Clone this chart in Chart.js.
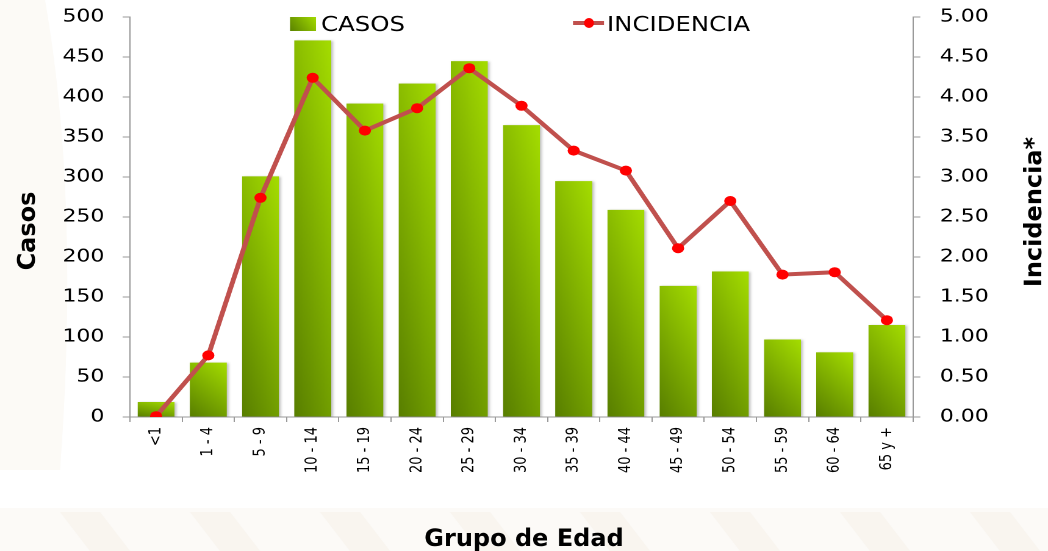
<!DOCTYPE html>
<html><head><meta charset="utf-8">
<script src="https://cdn.jsdelivr.net/npm/chart.js@4.4.1/dist/chart.umd.min.js"></script>
<style>
html,body{margin:0;padding:0;background:#fff;overflow:hidden;width:1048px;height:551px}
#wrap{position:absolute;left:0;top:0;width:859px;height:551px;transform:scaleX(1.22);transform-origin:0 0}
canvas{display:block}
</style></head><body>
<div id="wrap"><canvas id="c" width="859" height="551" style="width:859px;height:551px"></canvas></div>
<script>
// ---- data ----
const categories = ['<1','1 - 4','5 - 9','10 - 14','15 - 19','20 - 24','25 - 29','30 - 34','35 - 39','40 - 44','45 - 49','50 - 54','55 - 59','60 - 64','65 y +'];
const casos = [19, 68, 301, 471, 392, 417, 445, 365, 295, 259, 164, 182, 97, 81, 115];
const incidencia = [0.01, 0.77, 2.74, 4.24, 3.58, 3.86, 4.36, 3.89, 3.33, 3.08, 2.11, 2.70, 1.78, 1.81, 1.21];
const casosTicks = [0, 50, 100, 150, 200, 250, 300, 350, 400, 450, 500];
const incidenciaTicks = [0, 0.5, 1, 1.5, 2, 2.5, 3, 3.5, 4, 4.5, 5];
const seriesNames = ['CASOS', 'INCIDENCIA'];
const axisTitles = {x: 'Grupo de Edad', y: 'Casos', y1: 'Incidencia*'};

// ---- rendering ----
const S = 1048 / 859;          // horizontal stretch of the picture
const BAR_FRAC = 0.71;

// bilinear green gradient tile (dark bottom-left -> light top-right)
const tile = document.createElement('canvas');
tile.width = 64; tile.height = 256;
(function () {
  const tc = tile.getContext('2d');
  const img = tc.createImageData(64, 256);
  const dark = [88, 126, 0], light = [162, 218, 0];
  for (let y = 0; y < 256; y++) {
    const v = 1 - y / 255;
    for (let x = 0; x < 64; x++) {
      const u = x / 63;
      const t = Math.min(1, 0.35 * u + 0.68 * v);
      const i = (y * 64 + x) * 4;
      for (let k = 0; k < 3; k++) img.data[i + k] = Math.round(dark[k] + (light[k] - dark[k]) * t);
      img.data[i + 3] = 255;
    }
  }
  tc.putImageData(img, 0, 0);
})();

function barFill(ctx) {
  const chart = ctx.chart;
  if (!chart.chartArea || ctx.type !== 'data') return '#84b800';
  const xs = chart.scales.x, ys = chart.scales.y;
  const xc = xs.getPixelForValue(ctx.dataIndex);
  const w = xs.width / categories.length * BAR_FRAC;
  const top = ys.getPixelForValue(ctx.raw), bottom = ys.getPixelForValue(0);
  const p = chart.ctx.createPattern(tile, 'no-repeat');
  p.setTransform(new DOMMatrix([w / 64, 0, 0, Math.max(1, bottom - top) / 256, xc - w / 2, top]));
  return p;
}

const decoPlugin = {
  id: 'deco',
  beforeDraw(chart) {
    const c = chart.ctx;
    c.save();
    c.scale(1 / S, 1);
    c.fillStyle = '#ffffff';
    c.fillRect(0, 0, 1048, 551);
    c.fillStyle = '#fcfaf6';
    c.beginPath();
    c.moveTo(0, 0); c.lineTo(45, 0);
    c.quadraticCurveTo(80, 200, 60, 470);
    c.lineTo(0, 470); c.closePath(); c.fill();
    c.fillStyle = '#fcfaf7';
    c.fillRect(0, 508, 1048, 43);
    c.fillStyle = '#f9f5ef';
    for (let i = 0; i < 8; i++) {
      const x0 = 60 + i * 130;
      c.beginPath();
      c.moveTo(x0, 512); c.lineTo(x0 + 40, 512); c.lineTo(x0 + 70, 551); c.lineTo(x0 + 30, 551); c.closePath(); c.fill();
    }
    c.restore();
  }
};

const shadowPlugin = {
  id: 'barShadow',
  beforeDatasetDraw(chart, args) {
    if (args.index !== 1) return;
    const c = chart.ctx;
    c.save();
    c.shadowColor = 'rgba(0,0,0,0.25)';
    c.shadowBlur = 4;
    c.shadowOffsetX = 3;
    c.shadowOffsetY = 1;
  },
  afterDatasetDraw(chart, args) {
    if (args.index !== 1) return;
    chart.ctx.restore();
  }
};

const labelPlugin = {
  id: 'labels',
  afterDraw(chart) {
    const c = chart.ctx;
    c.save();
    const sqX = 290 / S, sqW = 26 / S;
    const lg = c.createLinearGradient(sqX, 31, sqX + sqW, 17);
    lg.addColorStop(0, '#5a8200'); lg.addColorStop(1, '#a2da00');
    c.fillStyle = lg;
    c.fillRect(sqX, 17, sqW, 14);
    c.fillStyle = '#000';
    c.font = '20px "DejaVu Sans"';
    c.textAlign = 'left';
    c.textBaseline = 'alphabetic';
    c.fillText(seriesNames[0], 321 / S, 31);
    c.strokeStyle = '#c0504d';
    c.lineWidth = 4;
    c.beginPath(); c.moveTo(573 / S, 23); c.lineTo(604 / S, 23); c.stroke();
    c.fillStyle = '#ff0000';
    c.beginPath(); c.ellipse(589 / S, 23, 5 / S, 5, 0, 0, Math.PI * 2); c.fill();
    c.fillStyle = '#000';
    c.fillText(seriesNames[1], 607 / S, 31);
    c.restore();

    c.save();
    c.scale(1 / S, 1);
    c.fillStyle = '#000';
    c.font = 'bold 24px "DejaVu Sans"';
    c.textAlign = 'center';
    c.textBaseline = 'alphabetic';
    c.fillText(axisTitles.x, 524, 546);
    c.save(); c.translate(35, 231); c.rotate(-Math.PI / 2); c.fillText(axisTitles.y, 0, 0); c.restore();
    c.save(); c.translate(1041, 212); c.rotate(-Math.PI / 2); c.fillText(axisTitles.y1, 0, 0); c.restore();
    c.restore();
  }
};

new Chart(document.getElementById('c'), {
  data: {
    labels: categories,
    datasets: [
      {
        type: 'line', label: seriesNames[1], data: incidencia, yAxisID: 'y1', order: 1,
        borderColor: '#c0504d', borderWidth: 4, tension: 0,
        pointBackgroundColor: '#ff0000', pointBorderColor: '#ff0000',
        pointRadius: 5, pointBorderWidth: 0, pointHoverRadius: 5
      },
      {
        type: 'bar', label: seriesNames[0], data: casos, yAxisID: 'y', order: 2,
        backgroundColor: barFill, borderWidth: 0,
        categoryPercentage: BAR_FRAC, barPercentage: 1
      }
    ]
  },
  options: {
    responsive: false,
    animation: false,
    devicePixelRatio: 2,
    layout: {padding: {top: 17, bottom: 0, left: 0, right: 0}},
    plugins: {legend: {display: false}, tooltip: {enabled: false}},
    scales: {
      x: {
        offset: true,
        grid: {display: true, drawOnChartArea: false, offset: true, tickLength: 5, color: '#9a9a9a', lineWidth: 1},
        border: {display: true, color: '#9a9a9a', width: 1},
        ticks: {minRotation: 90, maxRotation: 90, autoSkip: false, padding: 5, color: '#000',
                font: {family: '"DejaVu Sans"', size: 13}},
        afterFit(s) { s.height = 134; s.paddingLeft = 0; s.paddingRight = 0; }
      },
      y: {
        position: 'left', min: 0, max: 500,
        afterBuildTicks(s) { s.ticks = casosTicks.map(v => ({value: v})); },
        grid: {display: true, drawOnChartArea: false, tickLength: 6, color: '#9a9a9a'},
        border: {display: true, color: '#9a9a9a', width: 1},
        ticks: {padding: 15, color: '#000', font: {family: '"DejaVu Sans"', size: 18}},
        afterFit(s) { s.width = 130 / S; s.paddingTop = 0; s.paddingBottom = 0; }
      },
      y1: {
        position: 'right', min: 0, max: 5,
        afterBuildTicks(s) { s.ticks = incidenciaTicks.map(v => ({value: v})); },
        grid: {display: true, drawOnChartArea: false, tickLength: 6, color: '#9a9a9a'},
        border: {display: true, color: '#9a9a9a', width: 1},
        ticks: {padding: 16, color: '#000', font: {family: '"DejaVu Sans"', size: 18},
                callback: v => Number(v).toFixed(2)},
        afterFit(s) { s.width = 859 - 913 / S; s.paddingTop = 0; s.paddingBottom = 0; }
      }
    }
  },
  plugins: [decoPlugin, shadowPlugin, labelPlugin]
});
</script>
</body></html>
